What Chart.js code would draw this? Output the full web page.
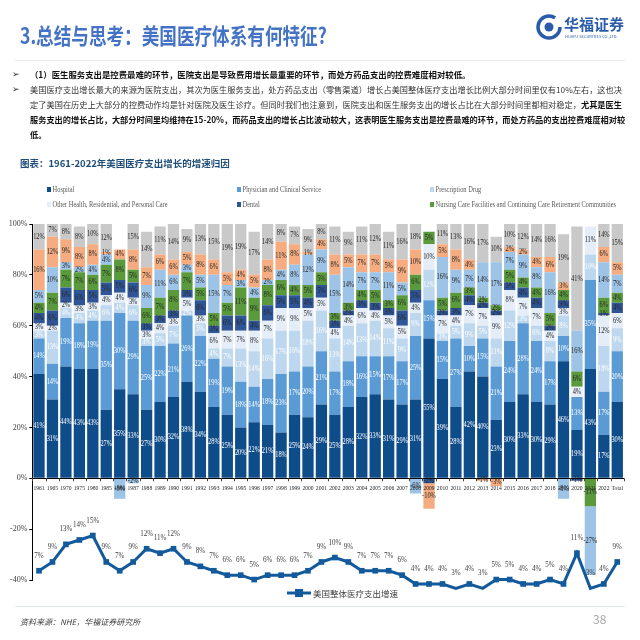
<!DOCTYPE html>
<html><head><meta charset="utf-8">
<script src="https://cdn.jsdelivr.net/npm/chart.js@4.4.0/dist/chart.umd.min.js"></script>
<style>
body{margin:0;width:640px;height:640px;position:relative;background:#fff;overflow:hidden;font-family:'Noto Sans CJK SC',sans-serif;}
.a{position:absolute;white-space:nowrap;}
.p{position:absolute;left:30px;width:592px;font-size:8.2px;line-height:12px;color:#333;white-space:nowrap;text-align:justify;text-align-last:justify;}
.b{font-weight:bold;color:#111;}
.bul{position:absolute;left:12px;font-size:9px;line-height:12px;color:#333;}
.lg{position:absolute;font-family:'Liberation Serif',serif;font-size:8px;color:#595959;line-height:10px;white-space:nowrap;transform:scaleX(0.8);transform-origin:left center;}
.lg i{display:inline-block;width:5px;height:5px;margin-right:2px;vertical-align:0px;}
</style></head><body>
<canvas id="c" width="640" height="640" style="position:absolute;left:0;top:0"></canvas>

<div class="a" style="left:20px;top:21px;font-size:22px;line-height:26px;font-weight:bold;color:#4472c4;transform:scaleX(0.8);transform-origin:left center;">3.总结与思考：美国医疗体系有何特征?</div>
<svg class="a" style="left:536px;top:14px" width="26" height="26" viewBox="0 0 26 26">
<circle cx="13" cy="13" r="11" fill="none" stroke="#2a5caa" stroke-width="3.5" stroke-dasharray="58 11"/>
<circle cx="13" cy="13" r="4.5" fill="#2a5caa"/>
</svg>
<div class="a" style="left:564px;top:14px;font-size:15px;line-height:20px;font-weight:bold;color:#2a5caa;">华福证券</div>
<div class="a" style="left:565px;top:34px;font-size:4px;line-height:5px;color:#2a5caa;">HUAFU SECURITIES CO.,LTD.</div>
<div class="a" style="left:15px;top:60px;width:610px;height:1px;background:#e8e8e8;"></div>

<div class="bul" style="top:68px">➢</div>
<div class="a b" style="left:30px;top:68px;font-size:8.4px;line-height:12px;">（1）医生服务支出是控费最难的环节，医院支出是导致费用增长最重要的环节，而处方药品支出的控费难度相对较低。</div>
<div class="bul" style="top:83px">➢</div>
<div class="p" style="top:83px">美国医疗支出增长最大的来源为医院支出，其次为医生服务支出，处方药品支出（零售渠道）增长占美国整体医疗支出增长比例大部分时间里仅有10%左右，这也决</div>
<div class="p" style="top:98px">定了美国在历史上大部分的控费动作均是针对医院及医生诊疗。但同时我们也注意到，医院支出和医生服务支出的增长占比在大部分时间里都相对稳定，<span class="b">尤其是医生</span></div>
<div class="p b" style="top:113px">服务支出的增长占比，大部分时间里均维持在15-20%，而药品支出的增长占比波动较大，这表明医生服务支出是控费最难的环节，而处方药品的支出控费难度相对较</div>
<div class="a b" style="left:30px;top:128px;font-size:8.2px;line-height:12px;">低。</div>

<div class="a" style="left:20px;top:156px;font-size:9.5px;line-height:14px;font-weight:bold;color:#1f4e79;">图表：1961-2022年美国医疗支出增长的增速归因</div>

<div id="legend"></div>

<svg class="a" style="left:286px;top:588px" width="26" height="10"><line x1="1" y1="5" x2="25" y2="5" stroke="#135a9c" stroke-width="3"/><rect x="9" y="1" width="8" height="8" fill="#135a9c"/></svg>
<div class="a" style="left:313px;top:587px;font-size:8.5px;line-height:12px;color:#404040;">美国整体医疗支出增速</div>
<div class="a" style="left:15px;top:606px;width:610px;height:1px;background:#dfe7f0;"></div>
<div class="a" style="left:20px;top:616px;font-size:8px;line-height:12px;color:#404040;font-style:italic;">资料来源：NHE，华福证券研究所</div>
<div class="a" style="left:593px;top:611px;font-size:12px;line-height:16px;color:#a6a6a6;">38</div>

<script>
const categories = ['1961','1965','1970','1975','1980','1985','1986','1987','1988','1989','1990','1991','1992','1993','1994','1995','1996','1997','1998','1999','2000','2001','2002','2003','2004','2005','2006','2007','2008','2009','2010','2011','2012','2013','2014','2015','2016','2017','2018','2019','2020','2021','2022','Total'];

const hospital     = [41,31,44,43,43,27,35,33,27,30,32,38,34,28,25,20,22,21,18,25,24,29,25,28,32,33,31,29,31,55,39,28,42,40,23,30,33,30,29,46,19,43,17,30];
const physician    = [14,14,19,18,19,35,30,29,25,22,21,26,22,19,19,18,14,18,23,17,20,21,17,18,16,15,17,17,25,15,15,27,10,15,21,24,28,24,17,10,13,35,17,20];
const prescription = [3,13,4,4,4,6,4,6,3,5,7,2,5,4,7,13,14,16,17,16,18,16,13,14,13,14,11,9,9,12,3,5,9,5,11,12,3,6,8,8,0,10,18,9];
const otherHealth  = [3,2,2,3,3,4,4,3,3,4,3,5,3,6,7,7,8,7,9,9,5,5,4,4,6,4,5,5,4,10,7,4,7,7,9,8,7,7,4,3,4,11,12,6];
const dental       = [4,6,6,6,5,5,5,6,3,3,3,3,6,3,6,6,4,6,5,5,4,5,3,2,3,3,3,6,5,-2,2,3,4,2,2,3,4,4,2,3,-1,0,1,4];
const nursing      = [4,7,7,7,6,7,8,5,6,7,8,7,5,5,5,11,9,8,6,4,5,5,3,3,4,5,3,6,6,5,5,6,3,2,2,5,4,4,5,4,6,-11,6,4];
const homeHealth   = [5,10,3,2,4,4,-8,-2,9,11,6,3,5,15,7,3,4,2,4,8,12,9,15,14,7,7,11,5,-6,0,16,9,7,14,17,7,9,8,16,-8,16,-27,14,7];
const otherProf    = [16,12,9,8,8,1,4,8,7,6,6,5,8,6,5,4,5,8,11,8,1,4,8,5,7,7,5,9,10,-10,5,8,4,-1,-3,2,2,4,6,3,0,0,6,5];
const otherSpend   = [12,7,8,8,10,12,0,15,14,11,14,9,13,15,19,19,17,14,8,7,9,8,11,9,11,12,11,16,18,0,11,13,16,17,10,10,12,14,16,19,41,0,14,15];
const totalGrowth  = [7,9,13,14,15,9,7,9,12,11,12,9,8,7,6,6,5,6,6,6,7,9,10,9,7,7,7,6,4,4,4,3,4,3,5,5,4,4,5,4,11,3,4,9];
const yTicks = [-40,-20,0,20,40,60,80,100];

const series = [
  {name:'Hospital', data:hospital, color:'#0f4c8a', txt:'#ffffff', legend:true},
  {name:'Physician and Clinical Service', data:physician, color:'#5b9bd5', txt:'#ffffff', legend:true},
  {name:'Prescription Drug', data:prescription, color:'#bdd7ee', txt:'#ffffff', legend:true},
  {name:'Other Health, Residential, and Personal Care', data:otherHealth, color:'#e4edf8', txt:'#262626', legend:true},
  {name:'Dental', data:dental, color:'#2f5597', txt:'#262626', legend:true},
  {name:'Nursing Care Facilities and Continuing Care Retirement Communities', data:nursing, color:'#5a9a3c', txt:'#262626', legend:true},
  {name:'Home Health Care', data:homeHealth, color:'#9dc3e6', txt:'#262626', legend:false},
  {name:'Other Professional Services', data:otherProf, color:'#f4ac80', txt:'#262626', legend:false},
  {name:'Other', data:otherSpend, color:'#c9c9c9', txt:'#262626', legend:false}
];
const lineColor = '#135a9c';

const lgPos = [[47,185],[237,185],[430,185],[47,200],[237,200],[430,200]];
let lh = '';
series.filter(s=>s.legend).forEach((s,i)=>{
  lh += `<div class="lg" style="left:${lgPos[i][0]}px;top:${lgPos[i][1]}px"><i style="background:${s.color}"></i>${s.name}</div>`;
});
document.getElementById('legend').innerHTML = lh;

function txt(ctx, s, x, y, color, size, sx){
  ctx.save();
  ctx.font = size + "px 'Liberation Serif'";
  ctx.fillStyle = color; ctx.textAlign = 'center'; ctx.textBaseline = 'middle';
  ctx.translate(x, y); ctx.scale(sx || 0.88, 1);
  ctx.fillText(s, 0, 0);
  ctx.restore();
}

const labelPlugin = {
  id: 'labels',
  afterDatasetsDraw(chart){
    const ctx = chart.ctx, area = chart.chartArea;
    const yScale = chart.scales.y, xScale = chart.scales.x;
    const y0 = yScale.getPixelForValue(0);
    ctx.save();
    ctx.strokeStyle = '#000'; ctx.lineWidth = 1;
    ctx.beginPath(); ctx.moveTo(area.left, Math.round(y0)+0.5); ctx.lineTo(area.right, Math.round(y0)+0.5); ctx.stroke();
    const w = (area.right - area.left) / categories.length;
    ctx.strokeStyle = '#5a3d2b';
    for (let k = 0; k <= categories.length; k++){
      const x = Math.round(area.left + k*w) + 0.5;
      ctx.beginPath(); ctx.moveTo(x, y0); ctx.lineTo(x, y0+3); ctx.stroke();
    }
    ctx.restore();
    chart.data.datasets.forEach((ds, di) => {
      if (ds.type === 'line') return;
      const meta = chart.getDatasetMeta(di);
      meta.data.forEach((bar, i) => {
        const v = ds.data[i]; if (!v) return;
        const p = bar.getProps(['x','y','base'], true);
        let top = Math.min(p.y, p.base), bot = Math.max(p.y, p.base);
        top = Math.max(top, area.top);
        if (bot <= top) return;
        txt(ctx, v + '%', p.x, (top+bot)/2, ds.labelColor, 7.5, 0.85);
      });
    });
    categories.forEach((c, i) => {
      txt(ctx, c, xScale.getPixelForValue(i), y0 + 10, '#262626', 7, 0.8);
    });
    const li = chart.data.datasets.findIndex(d => d.type === 'line');
    const lm = chart.getDatasetMeta(li);
    lm.data.forEach((pt, i) => {
      txt(ctx, totalGrowth[i] + '%', pt.x, pt.y - 15, '#404040', 8, 0.88);
    });
  }
};

const datasets = series.map(s => ({
  type:'bar', label:s.name, data:s.data, backgroundColor:s.color, labelColor:s.txt,
  borderWidth:0, barPercentage:0.84, categoryPercentage:1, yAxisID:'y', stack:'s', order:2
}));
datasets.push({
  type:'line', label:'美国整体医疗支出增速', data:totalGrowth, yAxisID:'y2',
  borderColor:lineColor, backgroundColor:lineColor, borderWidth:3, tension:0,
  pointStyle:'rect', pointRadius:4, pointBackgroundColor:lineColor, pointBorderWidth:0,
  clip:false, order:1
});

new Chart(document.getElementById('c'), {
  data:{labels:categories, datasets:datasets},
  options:{
    responsive:false, animation:false, devicePixelRatio:1,
    layout:{padding:{left:0, right:16, top:224, bottom:60}},
    plugins:{legend:{display:false}, tooltip:{enabled:false}},
    scales:{
      x:{display:false, stacked:true, offset:true},
      y:{stacked:true, min:yTicks[0], max:yTicks[yTicks.length-1],
         afterBuildTicks:(s)=>{ s.ticks = yTicks.map(v=>({value:v})); },
         afterFit:(s)=>{ s.width = 32.3; },
         ticks:{callback:v=>v+'%', color:'#404040', padding:2, font:{family:'Liberation Serif', size:8}},
         grid:{display:true, drawOnChartArea:false, drawTicks:true, tickLength:3, color:'#000'},
         border:{display:true, color:'#000', width:1}},
      y2:{display:false, min:4.9, max:85.8}
    }
  },
  plugins:[labelPlugin]
});
</script>
</body></html>
